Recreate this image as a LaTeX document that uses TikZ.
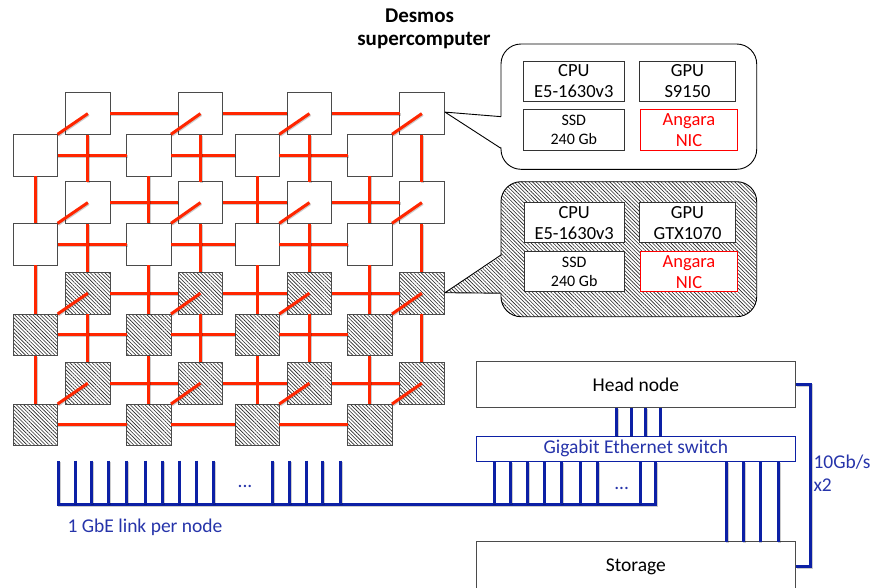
\documentclass[tikz,border=0pt]{standalone}
\usepackage{fontspec}
\setmainfont{Carlito}
\usetikzlibrary{patterns,patterns.meta,calc}
\definecolor{linkred}{RGB}{255,38,0}
\definecolor{netblue}{RGB}{12,32,165}
\definecolor{textblue}{RGB}{38,52,170}
\definecolor{edgegray}{RGB}{75,75,75}
\begin{document}
\begin{tikzpicture}[x=1pt,y=-1pt,
  sq/.style={draw=edgegray,line width=0.9pt,fill=white,minimum width=44.3pt,
    minimum height=41.8pt,inner sep=0pt,outer sep=0pt,anchor=north west},
  hatch/.style={preaction={fill=white},
    pattern={Lines[angle=-45,distance=2.6pt,line width=0.6pt]},pattern color=black!85},
  hsq/.style={draw=edgegray,line width=0.9pt,hatch,minimum width=44.3pt,
    minimum height=41.8pt,inner sep=0pt,outer sep=0pt,anchor=north west},
  redlink/.style={draw=linkred,line width=3pt,
    preaction={draw=black,draw opacity=.2,line width=3pt,
      transform canvas={xshift=0.8pt,yshift=-1pt}}},
  bluelink/.style={draw=netblue,line width=3pt,
    preaction={draw=black,draw opacity=.2,line width=3pt,
      transform canvas={xshift=0.8pt,yshift=-1pt}}},
  bubble/.style={draw=black,line width=0.9pt,rounded corners=20pt,
    minimum width=255.7pt,inner sep=0pt,outer sep=0pt},
  part/.style={draw=black!80,fill=white,line width=0.8pt,inner sep=0pt,
    outer sep=0pt,align=center,minimum height=40.7pt,
    font=\fontsize{18.5}{21}\selectfont},
  smallpart/.style={part,font=\fontsize{16}{18.5}\selectfont},
  nicpart/.style={part,draw=red,text=red},
  machine/.style={draw=edgegray,fill=white,line width=0.9pt,inner sep=0pt,
    outer sep=0pt,minimum width=319.7pt,font=\fontsize{19.5}{23}\selectfont},
  label/.style={inner sep=0pt,font=\fontsize{19.5}{23}\selectfont},
  bluelabel/.style={label,text=textblue},
  titlefont/.style={font=\fontsize{21}{24}\selectfont\bfseries}
]
\useasboundingbox (0,0) rectangle (873,587);
\clip (0,0) rectangle (873,587);

% ---- cluster grid: back layer (b) and front layer (f) ----
\foreach \c/\fx/\bx in {1/13.3/65.7,2/126.7/178.3,3/235/287.3,4/347.7/399.7}{
  \foreach \r/\by/\fy in {1/92.7/134.3,2/181.7/223.3}{
    \node[sq] (b-\r-\c) at (\bx,\by) {};
    \node[sq] (f-\r-\c) at (\fx,\fy) {};
  }
  \foreach \r/\by/\fy in {3/272.3/314,4/362.3/404}{
    \node[hsq] (b-\r-\c) at (\bx,\by) {};
    \node[hsq] (f-\r-\c) at (\fx,\fy) {};
  }
}

% Angara links along rows
\foreach \r in {1,...,4}{
  \foreach \c/\n in {1/2,2/3,3/4}{
    \draw[redlink] (b-\r-\c.east) -- (b-\r-\n.west);
    \draw[redlink] (f-\r-\c.east) -- (f-\r-\n.west);
  }
}
% Angara links along columns
\foreach \r/\n in {1/2,2/3,3/4}{
  \foreach \c in {1,...,4}{
    \draw[redlink] (b-\r-\c.south) -- (b-\n-\c.north);
    \draw[redlink] (f-\r-\c.south) -- (f-\n-\c.north);
  }
}
% links between the two layers
\foreach \r in {1,...,4}{
  \foreach \c in {1,...,4}{
    \draw[redlink] (b-\r-\c.center) -- (f-\r-\c.north east);
  }
}

% ---- title ----
\node[label,anchor=base,titlefont] (title1) at (419.5,22.7) {Desmos};
\node[label,anchor=base,titlefont] (title2) at (424,45.7) {supercomputer};

% ---- node configuration bubble, S9150 nodes ----
\node[bubble,fill=white,minimum height=125.3pt] (cA) at (628.85,106.65) {};
\coordinate (cA-tip) at ($(b-1-4.east)+(1,-1.5)$);
\fill[white] ($(cA.west)+(2,10)$) -- (cA-tip) -- ($(cA.west)+(2,41.7)$) -- cycle;
\draw[line width=0.9pt,line join=round] ($(cA.west)+(0,10)$) -- (cA-tip) -- ($(cA.west)+(0,41.7)$);
\node[part,minimum width=101pt] (cpuA) at (573.8,81.35) {CPU\\E5-1630v3};
\node[part,minimum width=96.4pt] (gpuA) at (687.5,81.35) {GPU\\S9150};
\node[smallpart,minimum width=101pt] (ssdA) at (573.8,129.65) {SSD\\240 Gb};
\node[nicpart,minimum width=96.6pt] (nicA) at (689,129.65) {Angara\\NIC};

% ---- node configuration bubble, GTX1070 nodes ----
\node[bubble,hatch,minimum height=135pt] (cB) at (628.85,249.2) {};
\coordinate (cB-tip) at ($(b-3-4.east)+(1,-0.5)$);
\fill[white] ($(cB.west)+(2.5,5.8)$) -- (cB-tip) -- ($(cB.west)+(2.5,44)$) -- cycle;
\path[hatch] ($(cB.west)+(2.5,5.8)$) -- (cB-tip) -- ($(cB.west)+(2.5,44)$) -- cycle;
\draw[line width=0.9pt,line join=round] ($(cB.west)+(0,5.8)$) -- (cB-tip) -- ($(cB.west)+(0,44)$);
\node[part,minimum width=100.3pt,minimum height=40pt] (cpuB) at (574.2,222.7) {CPU\\E5-1630v3};
\node[part,minimum width=96.4pt,minimum height=40pt] (gpuB) at (687.5,222.7) {GPU\\GTX1070};
\node[smallpart,minimum width=100.3pt,minimum height=40pt] (ssdB) at (574.2,271.7) {SSD\\240 Gb};
\node[nicpart,minimum width=96.6pt,minimum height=40pt] (nicB) at (689,271.7) {Angara\\NIC};

% ---- service network ----
\node[machine,minimum height=46pt] (head) at (635.85,384.7) {Head node};
\node[machine,draw=netblue,minimum height=25.7pt,text=textblue] (switch) at (635.85,448.85) {Gigabit Ethernet switch};
\node[machine,minimum height=50pt] (storage) at (635.85,566.7) {Storage};

% head node uplinks
\foreach \i/\x in {1/616.7,2/631,3/645.7,4/660}{
  \coordinate (hx\i) at (\x,0);
  \draw[bluelink] (head.south -| hx\i) -- (switch.north -| hx\i);
}
% storage uplinks
\foreach \i/\x in {1/726.7,2/743.3,3/760,4/778.3}{
  \coordinate (sx\i) at (\x,0);
  \draw[bluelink] (switch.south -| sx\i) -- (storage.north -| sx\i);
}
% 1 GbE links of the compute nodes
\coordinate (bus-w) at (58.3,504);
\coordinate (bus-e) at (655.7,504);
\coordinate (ltop) at (0,460.7);
\draw[bluelink] (switch.south -| bus-e) -- (bus-e) -- (bus-w) -- (bus-w |- ltop);
\foreach \i/\x in {1/75,2/91.7,3/108.3,4/126.7,5/145,6/162.3,7/179,8/196,9/213.3,
                   10/272.7,11/289.3,12/306,13/322.7,14/340.7}{
  \coordinate (lx\i) at (\x,460.7);
  \draw[bluelink] (lx\i) -- (lx\i |- bus-w);
}
\foreach \i/\x in {1/494,2/510.7,3/527.3,4/544,5/561.7,6/580,7/597.3,8/640}{
  \coordinate (rx\i) at (\x,504);
  \draw[bluelink] (switch.south -| rx\i) -- (rx\i);
}
\node[bluelabel] (dotsL) at (245,486) {...};
\node[bluelabel] (dotsR) at (621.7,488.5) {...};
\node[bluelabel] (gbe) at (145,527.3) {1 GbE link per node};

% 10 Gb/s link between head node and storage
\coordinate (ten) at (810.7,470);
\draw[bluelink] (head.east) -| (ten) |- (storage.east);
\node[bluelabel,anchor=west,align=left] (tenlabel) at (813.3,473.3) {10Gb/s\\x2};
\end{tikzpicture}
\end{document}
